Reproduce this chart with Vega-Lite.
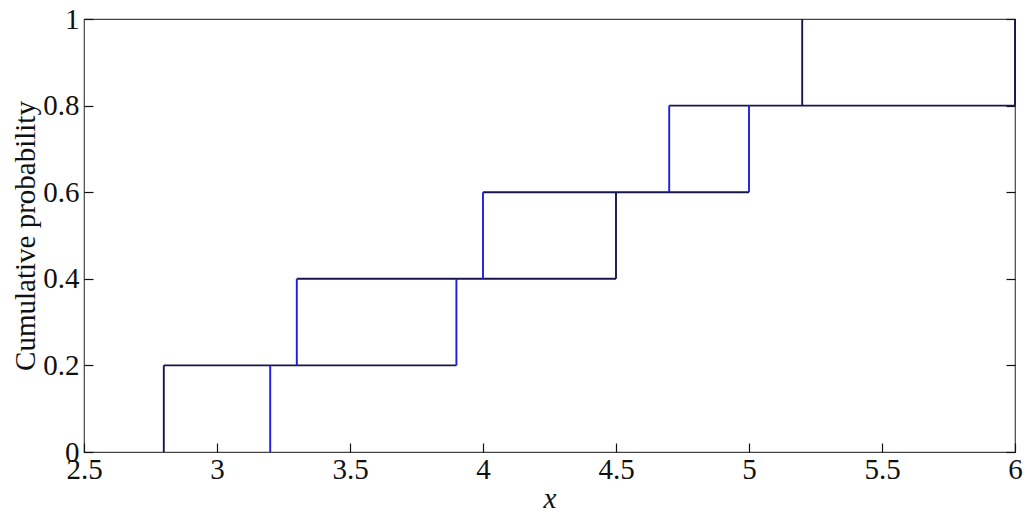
{
  "$schema": "https://vega.github.io/schema/vega-lite/v6.json",
  "width": 931,
  "height": 433,
  "autosize": "none",
  "padding": {"left": 84, "top": 19, "right": 15, "bottom": 63},
  "background": "white",
  "config": {
    "view": {"stroke": "#444444", "strokeWidth": 1.2},
    "font": "Liberation Serif",
    "axis": {
      "grid": false,
      "domain": false,
      "labelFont": "Liberation Serif",
      "labelFontSize": 29,
      "labelColor": "#111111",
      "labelOverlap": false,
      "labelFlush": false,
      "titleFont": "Liberation Serif",
      "titleFontSize": 29,
      "titleFontWeight": "normal",
      "titleColor": "#111111"
    }
  },
  "data": {
    "values": [
      {"xa": 2.8, "xb": 3.9, "ya": 0.2, "yb": 0.2, "edge": "dark"},
      {"xa": 3.3, "xb": 4.5, "ya": 0.4, "yb": 0.4, "edge": "dark"},
      {"xa": 4.0, "xb": 5.0, "ya": 0.6, "yb": 0.6, "edge": "dark"},
      {"xa": 4.7, "xb": 6.0, "ya": 0.8, "yb": 0.8, "edge": "dark"},
      {"xa": 2.8, "xb": 2.8, "ya": 0.0, "yb": 0.2, "edge": "dark"},
      {"xa": 3.2, "xb": 3.2, "ya": 0.0, "yb": 0.2, "edge": "blue"},
      {"xa": 3.3, "xb": 3.3, "ya": 0.2, "yb": 0.4, "edge": "blue"},
      {"xa": 3.9, "xb": 3.9, "ya": 0.2, "yb": 0.4, "edge": "blue"},
      {"xa": 4.0, "xb": 4.0, "ya": 0.4, "yb": 0.6, "edge": "blue"},
      {"xa": 4.5, "xb": 4.5, "ya": 0.4, "yb": 0.6, "edge": "dark"},
      {"xa": 4.7, "xb": 4.7, "ya": 0.6, "yb": 0.8, "edge": "blue"},
      {"xa": 5.0, "xb": 5.0, "ya": 0.6, "yb": 0.8, "edge": "blue"},
      {"xa": 5.2, "xb": 5.2, "ya": 0.8, "yb": 1.0, "edge": "dark"},
      {"xa": 6.0, "xb": 6.0, "ya": 0.8, "yb": 1.0, "edge": "dark"}
    ]
  },
  "layer": [
    {
      "mark": {"type": "rule", "strokeWidth": 1.9},
      "encoding": {
        "x": {
          "field": "xa", "type": "quantitative",
          "scale": {"domain": [2.5, 6], "nice": false, "zero": false},
          "axis": {"orient": "bottom", "values": [2.5, 3, 3.5, 4, 4.5, 5, 5.5, 6], "format": "~g", "offset": -9, "tickSize": 9, "tickColor": "#111111", "tickWidth": 1.2, "labelPadding": 3, "title": "x", "titleFontStyle": "italic", "titlePadding": 0}
        },
        "x2": {"field": "xb"},
        "y": {
          "field": "ya", "type": "quantitative",
          "scale": {"domain": [0, 1], "nice": false, "zero": false},
          "axis": {"orient": "left", "values": [0, 0.2, 0.4, 0.6, 0.8, 1], "format": "~g", "offset": -9, "tickSize": 9, "tickColor": "#111111", "tickWidth": 1.2, "labelPadding": 5, "title": "Cumulative probability", "titlePadding": 2}
        },
        "y2": {"field": "yb"},
        "color": {
          "field": "edge", "type": "nominal",
          "scale": {"domain": ["blue", "dark"], "range": ["#1e1ee0", "#16164c"]},
          "legend": null
        }
      }
    },
    {
      "mark": {"type": "rule", "opacity": 0},
      "encoding": {
        "x": {
          "field": "xa", "type": "quantitative",
          "scale": {"domain": [2.5, 6], "nice": false, "zero": false},
          "axis": {"orient": "top", "values": [2.5, 3, 3.5, 4, 4.5, 5, 5.5, 6], "labels": false, "title": null, "ticks": false}
        },
        "x2": {"field": "xb"},
        "y": {
          "field": "ya", "type": "quantitative",
          "scale": {"domain": [0, 1], "nice": false, "zero": false},
          "axis": {"orient": "right", "values": [0, 0.2, 0.4, 0.6, 0.8, 1], "labels": false, "title": null, "offset": -9, "tickSize": 9, "tickColor": "#111111", "tickWidth": 1.2}
        },
        "y2": {"field": "yb"}
      }
    }
  ],
  "resolve": {"axis": {"x": "independent", "y": "independent"}}
}
